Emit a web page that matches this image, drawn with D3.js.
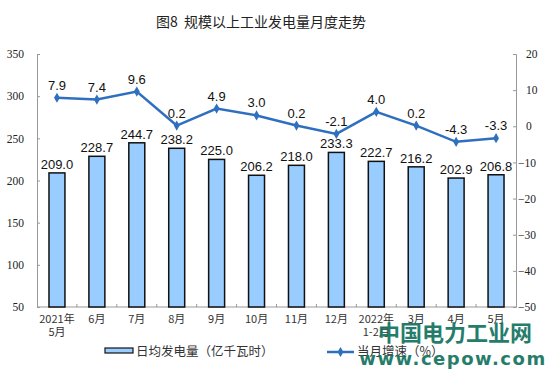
<!DOCTYPE html>
<html>
<head>
<meta charset="utf-8">
<script src="https://cdn.jsdelivr.net/npm/d3@7"></script>
<style>
  body { margin: 0; background: #fff; }
  svg { display: block; }
</style>
</head>
<body>
<div id="chart"></div>
<script>
// data
var categories = ["2021年|5月", "6月", "7月", "8月", "9月", "10月", "11月", "12月", "2022年|1-2月", "3月", "4月", "5月"];
var dailyOutput = [209.0, 228.7, 244.7, 238.2, 225.0, 206.2, 218.0, 233.3, 222.7, 216.2, 202.9, 206.8];
var growthRate = [7.9, 7.4, 9.6, 0.2, 4.9, 3.0, 0.2, -2.1, 4.0, 0.2, -4.3, -3.3];
var leftTicks = [50, 100, 150, 200, 250, 300, 350];
var rightTicks = [-50, -40, -30, -20, -10, 0, 10, 20];

var W = 554, H = 387;
var margin = {top: 54, right: 38, bottom: 80, left: 37},
    width = W - margin.left - margin.right,
    height = H - margin.top - margin.bottom;

var svg = d3.select("#chart")
  .append("svg")
    .attr("width", W)
    .attr("height", H);

// title
svg.append("text")
  .attr("x", 261)
  .attr("y", 27)
  .attr("text-anchor", "middle")
  .style("font-family", "'Noto Sans CJK SC', sans-serif")
  .style("font-size", "14px")
  .style("fill", "#222")
  .text("图8\u00a0\u00a0规模以上工业发电量月度走势");

var g = svg.append("g")
  .attr("transform", "translate(" + margin.left + "," + margin.top + ")");

var x = d3.scaleBand()
  .domain(categories)
  .range([0, width]);

var y = d3.scaleLinear()
  .domain([50, 350])
  .range([height, 0]);

var y2 = d3.scaleLinear()
  .domain([-50, 20])
  .range([height, 0]);

var axisColor = "#999";

// left axis
var gl = g.append("g")
  .call(d3.axisLeft(y).tickValues(leftTicks).tickSize(-3).tickPadding(13));
gl.attr("font-family", null);
gl.selectAll("text")
  .style("font-family", "'Liberation Serif', 'Times New Roman', serif")
  .style("font-size", "11.5px")
  .style("fill", "#222");

// right axis
var gr = g.append("g")
  .attr("transform", "translate(" + width + ",0)")
  .call(d3.axisRight(y2).tickValues(rightTicks).tickSize(-3).tickPadding(10));
gr.attr("font-family", null);
gr.selectAll("text")
  .style("font-family", "'Liberation Serif', 'Times New Roman', serif")
  .style("font-size", "11.5px")
  .style("fill", "#222")
  .attr("dx", function(d) { return d < 0 ? -8 : 0; });

g.selectAll(".domain, .tick line").attr("stroke", axisColor);

// bottom axis
g.append("line")
  .attr("x1", 0).attr("x2", width)
  .attr("y1", height).attr("y2", height)
  .attr("stroke", axisColor);

g.selectAll(".xtick")
  .data(categories.slice(1))
  .enter()
  .append("line")
    .attr("x1", function(d) { return x(d); })
    .attr("x2", function(d) { return x(d); })
    .attr("y1", height)
    .attr("y2", height - 3)
    .attr("stroke", axisColor);

var xl = g.selectAll(".xlabel")
  .data(categories)
  .enter()
  .append("text")
    .attr("text-anchor", "middle")
    .style("font-family", "'Noto Sans CJK SC', sans-serif")
    .style("font-size", "11px")
    .style("fill", "#333");
xl.each(function(d) {
  var parts = d.split("|");
  var t = d3.select(this);
  parts.forEach(function(p, i) {
    t.append("tspan")
      .attr("x", x(d) + x.bandwidth() / 2)
      .attr("y", height + 16 + i * 13)
      .text(p);
  });
});

// bars
var barW = x.bandwidth() * 0.4;
g.selectAll(".bar")
  .data(dailyOutput)
  .enter()
  .append("rect")
    .attr("x", function(d, i) { return x(categories[i]) + (x.bandwidth() - barW) / 2; })
    .attr("y", function(d) { return y(d); })
    .attr("width", barW)
    .attr("height", function(d) { return height - y(d); })
    .attr("fill", "#99ccff")
    .attr("stroke", "#111")
    .attr("stroke-width", 1.5);

g.selectAll(".barlabel")
  .data(dailyOutput)
  .enter()
  .append("text")
    .attr("x", function(d, i) { return x(categories[i]) + x.bandwidth() / 2; })
    .attr("y", function(d) { return y(d) - 4; })
    .attr("text-anchor", "middle")
    .style("font-family", "'Liberation Sans', Arial, sans-serif")
    .style("font-size", "13px")
    .style("fill", "#111")
    .text(function(d) { return d.toFixed(1); });

// line
var lineColor = "#2f6fbf";
var line = d3.line()
  .x(function(d, i) { return x(categories[i]) + x.bandwidth() / 2; })
  .y(function(d) { return y2(d); });

g.append("path")
  .datum(growthRate)
  .attr("d", line)
  .attr("fill", "none")
  .attr("stroke", lineColor)
  .attr("stroke-width", 2.5);

var diamond = d3.symbol().type(d3.symbolDiamond).size(30);
g.selectAll(".pt")
  .data(growthRate)
  .enter()
  .append("path")
    .attr("d", diamond)
    .attr("transform", function(d, i) {
      return "translate(" + (x(categories[i]) + x.bandwidth() / 2) + "," + y2(d) + ")";
    })
    .attr("fill", lineColor);

g.selectAll(".ptlabel")
  .data(growthRate)
  .enter()
  .append("text")
    .attr("x", function(d, i) { return x(categories[i]) + x.bandwidth() / 2; })
    .attr("y", function(d) { return y2(d) - 8; })
    .attr("text-anchor", "middle")
    .style("font-family", "'Liberation Sans', Arial, sans-serif")
    .style("font-size", "13px")
    .style("fill", "#111")
    .text(function(d) { return d.toFixed(1); });

// legend
var leg = svg.append("g");
leg.append("rect")
  .attr("x", 105).attr("y", 348)
  .attr("width", 28).attr("height", 5)
  .attr("fill", "#99ccff")
  .attr("stroke", "#111")
  .attr("stroke-width", 1.2);
leg.append("text")
  .attr("x", 136).attr("y", 356)
  .style("font-family", "'Noto Sans CJK SC', sans-serif")
  .style("font-size", "12.5px")
  .style("fill", "#333")
  .text("日均发电量（亿千瓦时）");

leg.append("line")
  .attr("x1", 327).attr("x2", 354)
  .attr("y1", 352).attr("y2", 352)
  .attr("stroke", lineColor)
  .attr("stroke-width", 2.5);
leg.append("path")
  .attr("d", diamond)
  .attr("transform", "translate(340.5,352)")
  .attr("fill", lineColor);
leg.append("text")
  .attr("x", 357).attr("y", 356)
  .style("font-family", "'Noto Sans CJK SC', sans-serif")
  .style("font-size", "12.5px")
  .style("fill", "#333")
  .text("当月增速（%）");

// watermark
svg.append("text")
  .attr("x", 455).attr("y", 341)
  .attr("text-anchor", "middle")
  .style("font-family", "'Noto Sans CJK SC', sans-serif")
  .style("font-weight", "bold")
  .style("font-size", "22px")
  .style("fill", "#12735f")
  .style("opacity", 0.92)
  .text("中国电力工业网");
svg.append("text")
  .attr("x", 453).attr("y", 365)
  .attr("text-anchor", "middle")
  .style("font-family", "'DejaVu Sans', sans-serif")
  .style("font-weight", "bold")
  .style("font-size", "18px")
  .style("letter-spacing", "1.5px")
  .style("fill", "#12735f")
  .style("opacity", 0.92)
  .text("www.cepow.com");
</script>
</body>
</html>
